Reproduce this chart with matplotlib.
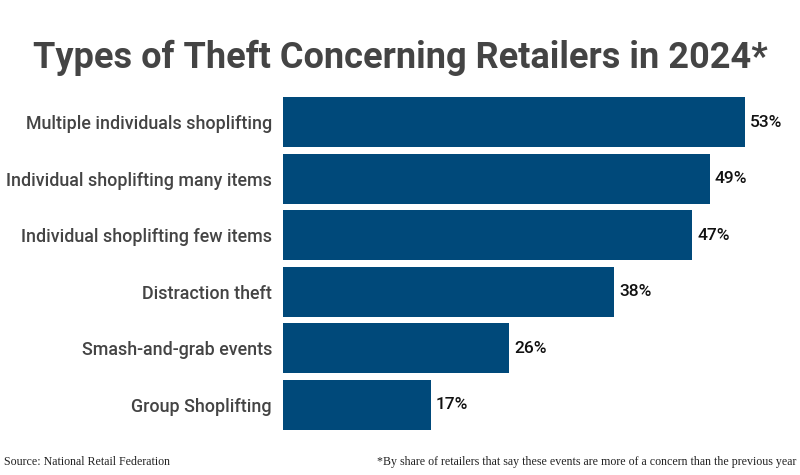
"""Horizontal bar chart: types of theft concerning retailers in 2024."""

import matplotlib

matplotlib.use("Agg")
import matplotlib.pyplot as plt  # noqa: E402

categories = [
    "Multiple individuals shoplifting",
    "Individual shoplifting many items",
    "Individual shoplifting few items",
    "Distraction theft",
    "Smash-and-grab events",
    "Group Shoplifting",
]
shares = [53, 49, 47, 38, 26, 17]

BAR_COLOR = "#00497A"
TEXT_COLOR = "#444444"
PX_PER_PCT = 8.71

fig = plt.figure(figsize=(8, 4.75), dpi=100)
ax = fig.add_axes([283 / 800, 42 / 475, 507 / 800, 339 / 475])

positions = range(len(categories))
ax.barh(positions, shares, height=0.885, color=BAR_COLOR)
ax.set_ylim(len(categories) - 0.5, -0.5)
ax.set_xlim(0, 507 / PX_PER_PCT)

for pos, val in zip(positions, shares):
    ax.text(val + 5 / PX_PER_PCT, pos, f"{val}%", va="center", ha="left",
            fontsize=12.5, fontweight="medium", color="#111111", family="Roboto")

ax.set_yticks(list(positions))
ax.set_yticklabels(categories, fontsize=12.9, fontweight="medium", color=TEXT_COLOR,
                   family="Roboto")
ax.tick_params(axis="y", length=0, pad=8)
ax.set_xticks([])
for spine in ax.spines.values():
    spine.set_visible(False)

fig.text(0.5, 1 - 68 / 475, "Types of Theft Concerning Retailers in 2024*",
         ha="center", va="baseline", fontsize=26, fontweight="bold",
         color=TEXT_COLOR, family="Roboto")
fig.text(4 / 800, 1 - 462 / 475, "Source: National Retail Federation",
         ha="left", va="center", fontsize=8.6, color="#222222", family="Liberation Serif")
fig.text(796 / 800, 1 - 462 / 475,
         "*By share of retailers that say these events are more of a concern than the previous year",
         ha="right", va="center", fontsize=8.6, color="#222222", family="Liberation Serif")

fig.savefig("out.png", dpi=100, facecolor="white")
plt.close(fig)
